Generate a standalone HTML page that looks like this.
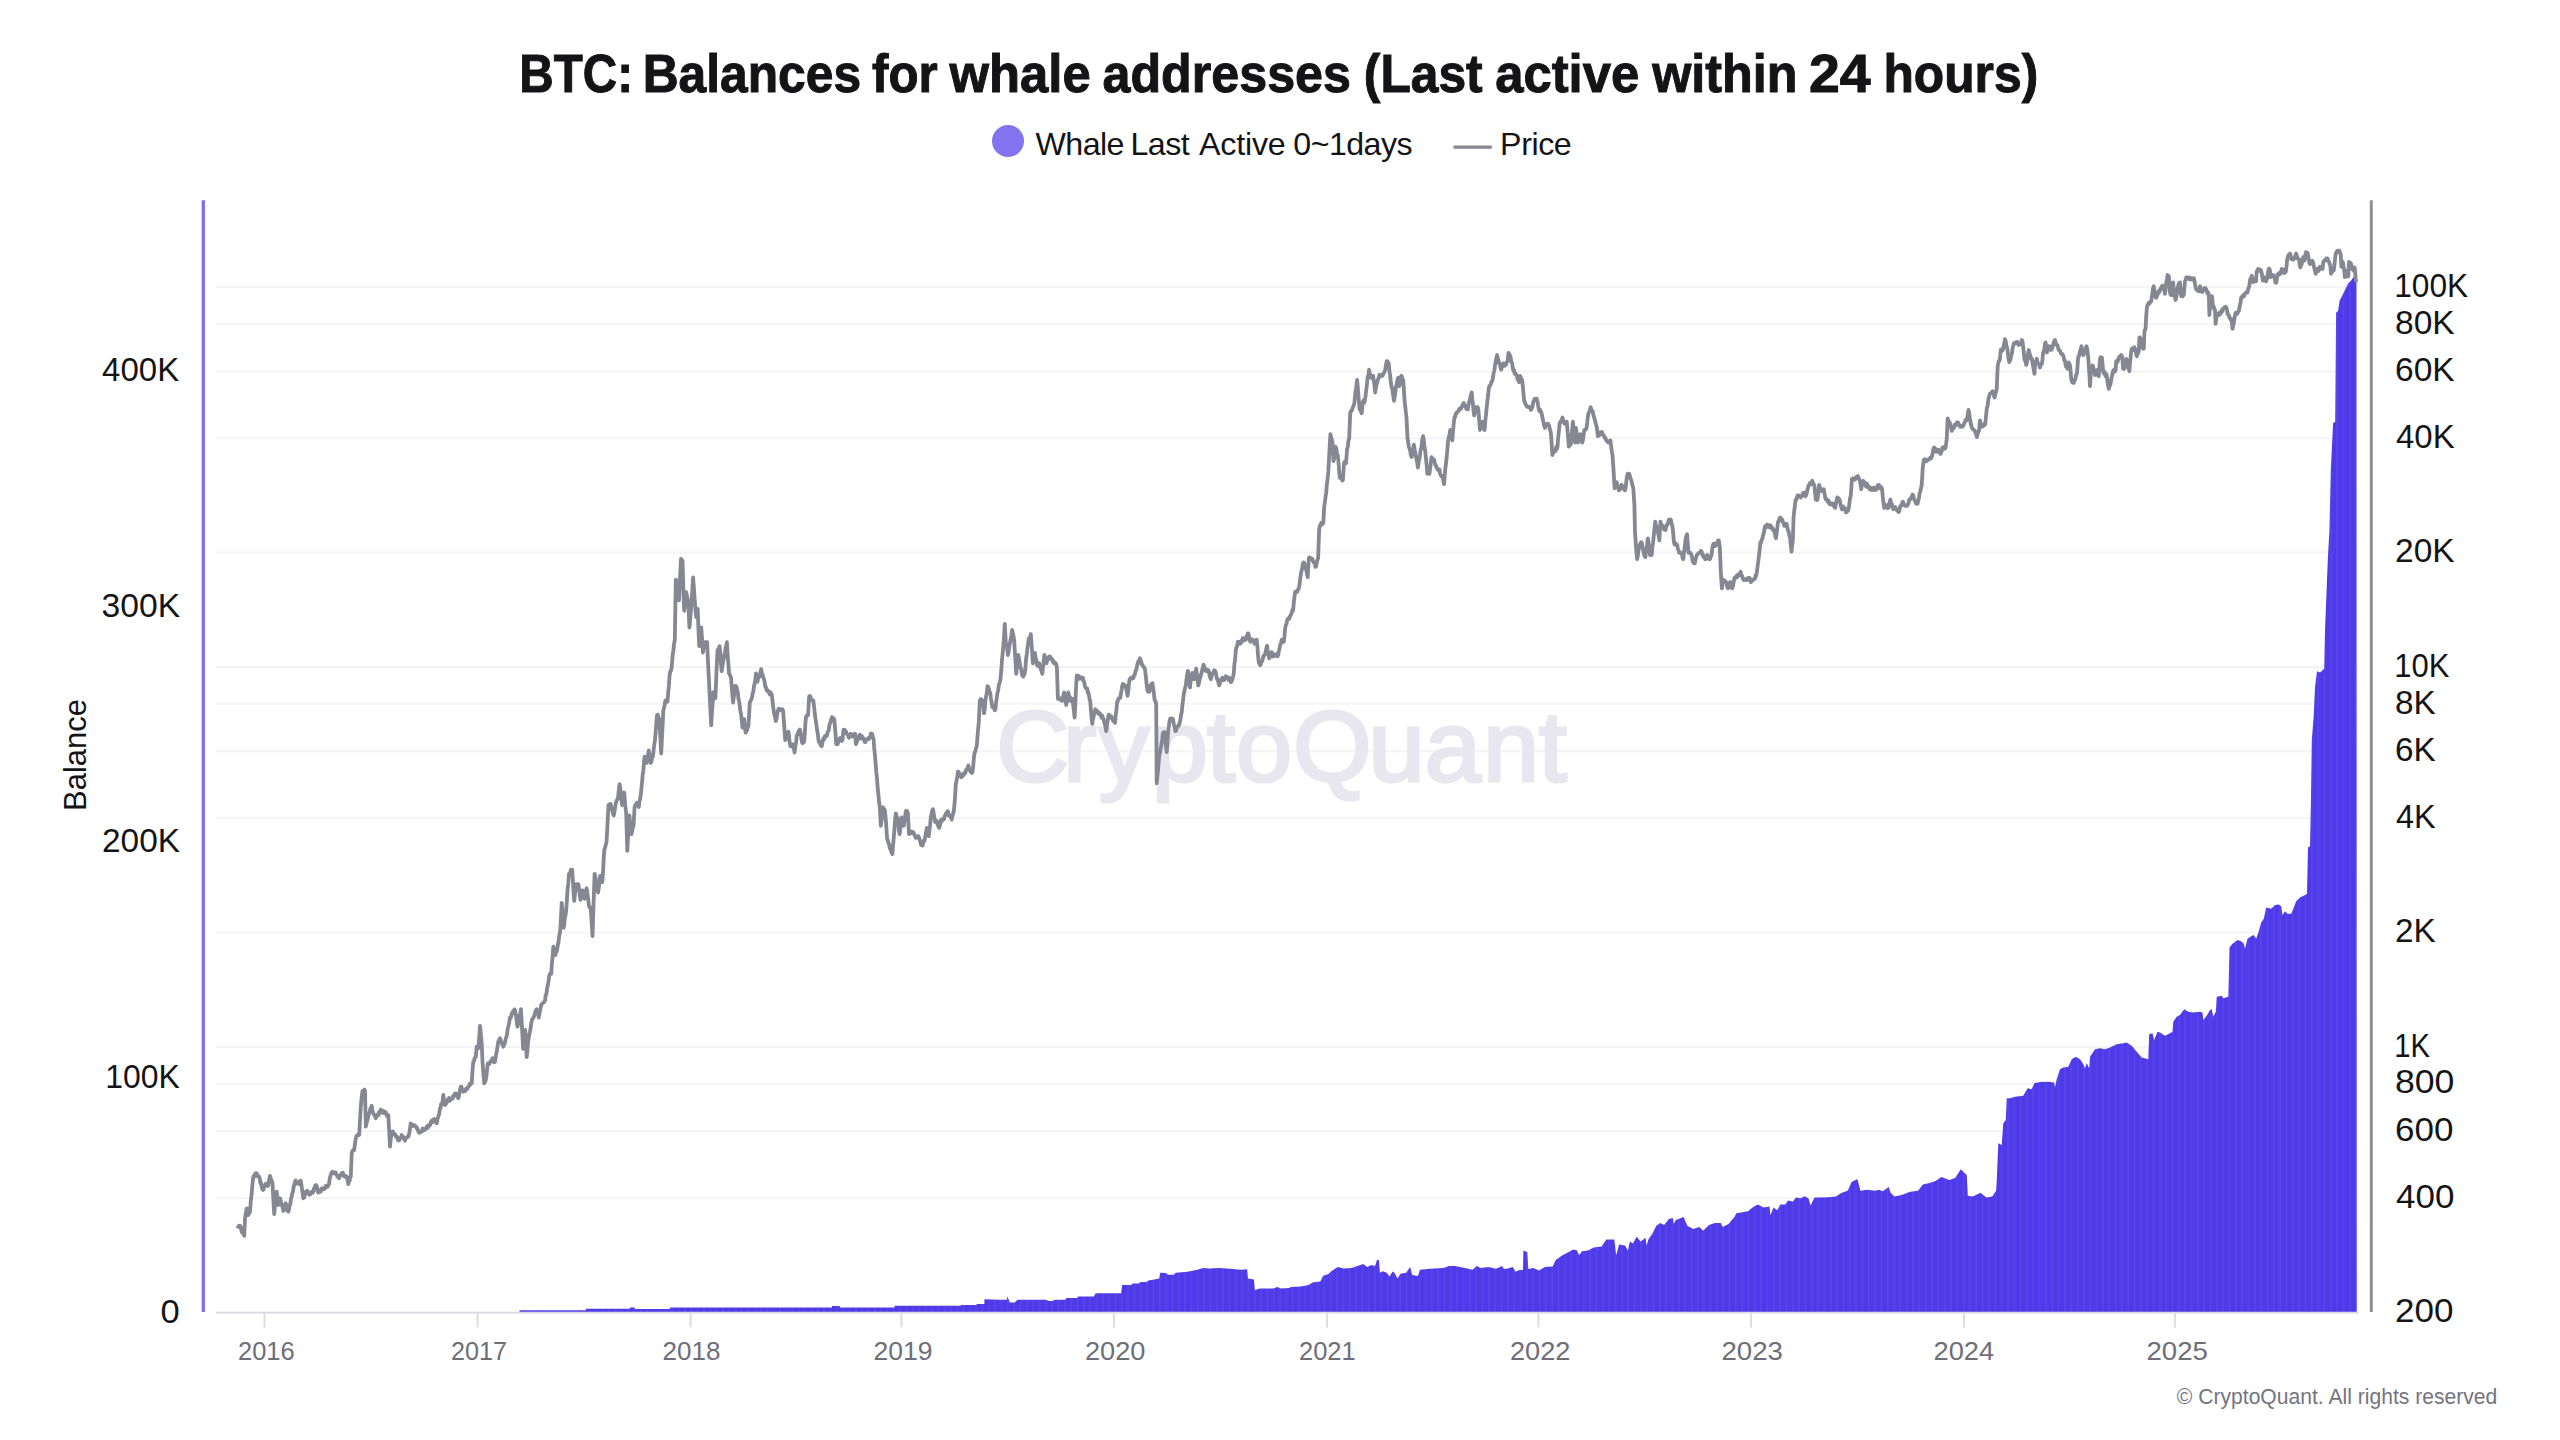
<!DOCTYPE html>
<html><head><meta charset="utf-8"><title>BTC: Balances for whale addresses</title>
<style>
html,body{margin:0;padding:0;background:#fff;}
body{width:2560px;height:1440px;overflow:hidden;}
svg{display:block;font-family:"Liberation Sans",Arial,sans-serif;}
</style></head><body>
<svg width="2560" height="1440" viewBox="0 0 2560 1440">
<rect width="2560" height="1440" fill="#fff"/>
<g font-size="53.5" font-weight="700" fill="#141416" stroke="#141416" stroke-width="1.0"><text transform="translate(519.34 91.6) scale(0.8897 1)">BTC:</text><text transform="translate(642.63 91.6) scale(0.9300 1)">Balances</text><text transform="translate(872.01 91.6) scale(0.9208 1)">for</text><text transform="translate(949.54 91.6) scale(0.9493 1)">whale</text><text transform="translate(1102.47 91.6) scale(0.9392 1)">addresses</text><text transform="translate(1363.87 91.6) scale(0.9298 1)">(Last</text><text transform="translate(1495.21 91.6) scale(0.9496 1)">active</text><text transform="translate(1652.17 91.6) scale(0.9409 1)">within</text><text transform="translate(1808.95 91.6) scale(1.0355 1)">24</text><text transform="translate(1883.41 91.6) scale(0.9305 1)">hours)</text></g>
<circle cx="1008" cy="141" r="16" fill="#8373EF"/>
<g font-size="32.2" fill="#141416" lengthAdjust="spacingAndGlyphs"><text x="1035.50" y="155.4" textLength="89.00">Whale</text><text x="1130.50" y="155.4" textLength="59.20">Last</text><text x="1199.10" y="155.4" textLength="86.60">Active</text><text x="1293.30" y="155.4" textLength="119.20">0~1days</text><text x="1500.10" y="155.4" textLength="71.60">Price</text></g>
<line x1="1453.5" x2="1491.8" y1="147.1" y2="147.1" stroke="#878792" stroke-width="3.2"/>

<g stroke="#F4F4F6" stroke-width="2"><line x1="216" x2="2357" y1="287.1" y2="287.1"/><line x1="216" x2="2357" y1="323.9" y2="323.9"/><line x1="216" x2="2357" y1="371.4" y2="371.4"/><line x1="216" x2="2357" y1="438.3" y2="438.3"/><line x1="216" x2="2357" y1="552.6" y2="552.6"/><line x1="216" x2="2357" y1="667.0" y2="667.0"/><line x1="216" x2="2357" y1="703.8" y2="703.8"/><line x1="216" x2="2357" y1="751.3" y2="751.3"/><line x1="216" x2="2357" y1="818.2" y2="818.2"/><line x1="216" x2="2357" y1="932.5" y2="932.5"/><line x1="216" x2="2357" y1="1046.9" y2="1046.9"/><line x1="216" x2="2357" y1="1083.7" y2="1083.7"/><line x1="216" x2="2357" y1="1131.2" y2="1131.2"/><line x1="216" x2="2357" y1="1198.1" y2="1198.1"/></g>
<g font-size="101" fill="#E8E7EF" stroke="#E8E7EF" stroke-width="3.2" text-anchor="middle"><text x="1032.7 1079.9 1124.1 1179.8 1221 1264 1332.4 1396.6 1452.9 1511 1552.8" y="781">CryptoQuant</text></g>
<defs><pattern id="bars" patternUnits="userSpaceOnUse" width="6.33" height="10" x="0.5"><rect width="6.33" height="10" fill="#4F3AEA"/><rect x="0" width="1.6" height="10" fill="#5845E9"/></pattern></defs><path d="M519.5 1310.3 L585.9 1310.3 L585.9 1308.8 L629.9 1308.8 L629.9 1307.4 L634.8 1307.4 L634.8 1309.1 L669.9 1309.1 L669.9 1307.4 L832 1307.4 L832 1306 L839.8 1306 L839.8 1307.6 L894.5 1307.6 L894.5 1305.8 L960.9 1305.8 L960.9 1305 L976.6 1305 L976.6 1304.1 L984.4 1304.1 L984.4 1299.2 L1000 1299.7 L1006.8 1299.7 L1007.4 1296.6 L1008.8 1299.7 L1009.8 1302.4 L1014.6 1302.4 L1017.6 1299.7 L1045.9 1299.7 L1048.8 1300.9 L1052.7 1300.9 L1054.7 1299.7 L1065.4 1299.7 L1066.4 1298.1 L1077.1 1298.1 L1078.1 1296.6 L1093.8 1296.6 L1095.7 1293.2 L1121.1 1293.2 L1122.1 1285 L1130.9 1285 L1132.8 1283.5 L1138.7 1283.5 L1140.6 1282.1 L1146.5 1282.1 L1148.4 1280.5 L1154.3 1279.6 L1159.2 1278.6 L1160.2 1272.7 L1166 1273.1 L1168 1274.7 L1173.8 1274.7 L1175.8 1272.7 L1187.5 1271.8 L1197.3 1269.8 L1203.1 1267.9 L1209 1268.4 L1218.8 1267.9 L1230.5 1268.8 L1240.2 1269.8 L1247.1 1269.2 L1248 1278.6 L1253.9 1279.6 L1254.9 1289.9 L1259.8 1288.4 L1273.4 1288.4 L1277.3 1287 L1281.2 1288.4 L1289.1 1288 L1291 1287 L1300.8 1286.4 L1308.6 1285 L1312.5 1282.5 L1320.3 1281.5 L1323.2 1275.7 L1328.1 1274.3 L1332 1270.8 L1337.9 1266.9 L1343.8 1268.4 L1351.6 1267.9 L1357.4 1266.1 L1363.3 1263.9 L1367.2 1266.9 L1371.1 1264.9 L1375 1265.9 L1377 1260 L1378.9 1260 L1379.9 1272.7 L1382.8 1271.2 L1386.7 1272.7 L1389.6 1276.6 L1392.6 1271.4 L1394.5 1272.7 L1397.5 1278.6 L1400.4 1273.7 L1406.2 1272.7 L1410.2 1266.9 L1412.1 1274.7 L1416 1275.7 L1418 1275.7 L1419.9 1269.8 L1429.7 1268.8 L1443.4 1267.9 L1449.2 1265.9 L1455.1 1265.9 L1464.8 1267.9 L1472.7 1269.8 L1476.6 1265.9 L1480.5 1267.9 L1488.3 1266.9 L1496.1 1268.8 L1500 1267 L1502 1266 L1503.9 1268.9 L1507.8 1268.5 L1512.7 1267 L1515.6 1271.8 L1519.5 1269.9 L1523 1269.9 L1523.4 1250.4 L1527.3 1252.3 L1528.3 1268.9 L1533.2 1267.9 L1539.1 1270.5 L1544.9 1267 L1552.7 1266.6 L1555.7 1260.1 L1562.5 1255.2 L1566.4 1253.3 L1573.2 1249.4 L1577.1 1250.4 L1579.1 1255.2 L1582 1251.3 L1587.9 1250.4 L1593.8 1247.4 L1601.6 1246.4 L1606.4 1239.6 L1614.3 1239.6 L1616.2 1255.2 L1619.1 1244.5 L1625 1245.5 L1627.9 1250.4 L1629.9 1241.6 L1632.8 1243.5 L1636.7 1236.7 L1640.6 1241.6 L1645.5 1237.7 L1646.5 1245.5 L1648.4 1239.6 L1652.3 1233.8 L1656.2 1225.9 L1660.2 1223 L1664.1 1225 L1668.9 1219.1 L1672.9 1218.1 L1673.8 1224 L1675.8 1220.1 L1683.6 1217.1 L1687.5 1225.9 L1693.4 1228.9 L1699.2 1226.9 L1703.1 1230.8 L1709 1225 L1714.8 1223 L1720.7 1223 L1722.7 1226.9 L1728.5 1224 L1734.4 1217.1 L1736.3 1213.2 L1742.2 1212.3 L1748 1211.3 L1753.9 1206.4 L1757.8 1204.5 L1763.7 1207.4 L1769.5 1206.4 L1770.5 1215.2 L1773.4 1207.4 L1777.3 1210.3 L1780.3 1204.5 L1785.2 1204.5 L1788.1 1200.5 L1793 1201.5 L1795.9 1197.6 L1800.8 1198.2 L1804.7 1196.2 L1808.6 1198.6 L1810.5 1205.4 L1814.5 1197.6 L1820.3 1197.6 L1828.1 1197.2 L1835.9 1196.6 L1841.8 1192.7 L1847.7 1190.8 L1851.6 1182 L1857.4 1179.1 L1860.4 1190.8 L1867.2 1189.8 L1875 1190.8 L1878.9 1189.8 L1882.8 1191.2 L1888.7 1186.9 L1890.6 1192.7 L1894.5 1196.6 L1902.3 1194.7 L1910.2 1191.8 L1918 1190.8 L1922.9 1184.5 L1929.7 1183 L1935.5 1181 L1941.4 1177.1 L1949.2 1180 L1955.1 1178.1 L1960.9 1169.3 L1964.8 1173.2 L1966.8 1175.2 L1967.8 1195.7 L1972.7 1196.6 L1980.5 1192.7 L1986.3 1197.6 L1992.2 1196.6 L1996.1 1190.8 L1996.7 1181.7 L1998.3 1143.3 L2001.7 1145 L2003.3 1123.3 L2005.8 1120 L2006.7 1098.3 L2010 1098.3 L2015 1096.7 L2023.3 1095.8 L2027.5 1088.3 L2031.7 1089.2 L2034.2 1083.3 L2040 1082 L2048.3 1081.7 L2054.2 1082.5 L2055 1087.5 L2056.7 1079.2 L2060 1069.2 L2063.3 1067.5 L2068.3 1066.7 L2071.7 1059.2 L2075.8 1056.7 L2080 1059.2 L2083.3 1064.2 L2085 1068.3 L2086.7 1063.3 L2089.2 1068.3 L2090 1056.7 L2095 1049.2 L2100 1048.3 L2105 1049.2 L2110 1047.5 L2116.7 1044.2 L2123.3 1043.3 L2126.7 1042.5 L2131.7 1045.8 L2136.7 1051.7 L2141.7 1057.5 L2148.3 1059.2 L2149.2 1034.2 L2152.5 1033.3 L2154.2 1040 L2157.5 1031.7 L2160 1032.5 L2165 1035.8 L2170 1033.3 L2172.5 1031.7 L2173.3 1021.7 L2176.7 1016.7 L2180 1015 L2184.2 1009.2 L2188.3 1011.7 L2193.3 1012.5 L2200 1011.7 L2202.5 1012.5 L2203.3 1020 L2206.7 1015.8 L2210 1010 L2211.7 1009.2 L2213.3 1016.7 L2215.8 1011.7 L2216.7 996.7 L2221.7 995.8 L2223.3 998.3 L2228.3 996.7 L2229.5 947.5 L2232.5 943.8 L2237.5 940 L2241.2 941.2 L2243.8 943.8 L2245 948.8 L2247.5 938.8 L2251.2 936.2 L2253.8 935 L2256.2 938.8 L2258.8 931.2 L2261.2 922.5 L2263.8 918.8 L2266.2 907.5 L2271.2 908.8 L2275 905 L2278.8 904.5 L2281.2 906.2 L2282.5 915 L2285 911.2 L2287.5 913.8 L2291.2 913.8 L2293.8 907.5 L2296.2 901.2 L2300 897.5 L2305 895 L2307 893.8 L2308 847.5 L2310 846.2 L2310.8 807.5 L2311.8 740 L2313.8 715 L2315 687.5 L2317 671.2 L2320 672.5 L2324.2 668.8 L2325 630.3 L2326.4 595.3 L2327.9 557.4 L2329.4 531.1 L2330.8 469.9 L2333.1 423.3 L2335.2 421.8 L2336.1 312.5 L2338.1 311 L2339.6 300.8 L2342.5 295 L2345.4 289.2 L2348.3 283.3 L2351.2 280.4 L2354.1 276 L2356.5 277.5 L2356.8 1312 L519.5 1312 Z" fill="url(#bars)"/>
<line x1="216" x2="2358.5" y1="1312.6" y2="1312.6" stroke="#DADAE2" stroke-width="1.6"/>
<g stroke="#DCDCE3" stroke-width="2"><line x1="264.5" x2="264.5" y1="1312" y2="1327.5"/><line x1="477.5" x2="477.5" y1="1312" y2="1327.5"/><line x1="690.6" x2="690.6" y1="1312" y2="1327.5"/><line x1="901.4" x2="901.4" y1="1312" y2="1327.5"/><line x1="1114" x2="1114" y1="1312" y2="1327.5"/><line x1="1327.1" x2="1327.1" y1="1312" y2="1327.5"/><line x1="1538.5" x2="1538.5" y1="1312" y2="1327.5"/><line x1="1751.1" x2="1751.1" y1="1312" y2="1327.5"/><line x1="1964" x2="1964" y1="1312" y2="1327.5"/><line x1="2174.9" x2="2174.9" y1="1312" y2="1327.5"/></g>
<path d="M237.5 1228.3 L238.1 1227.1 L238.8 1225.9 L239.4 1227 L240 1225.8 L240.8 1227.3 L241.7 1231.7 L242.3 1232.8 L242.9 1233.3 L243.5 1233.3 L244.2 1235.8 L245 1218.3 L245.8 1213.4 L246.7 1208.3 L247.5 1210.1 L248.3 1215 L249.2 1213.1 L250 1211.7 L250.8 1201 L251.7 1193.3 L252.5 1183.6 L253.3 1176.7 L254 1175.7 L254.7 1176.4 L255.3 1173.4 L256 1173.1 L256.7 1173.3 L257.3 1174.6 L257.9 1176.5 L258.5 1176.1 L259.2 1176.7 L259.8 1178.8 L260.4 1183.3 L261 1182.6 L261.7 1186.7 L262.5 1189.6 L263.3 1190 L264.2 1186.8 L265 1185 L265.7 1183.8 L266.3 1183.7 L267 1184.3 L267.7 1186.1 L268.3 1185 L269.2 1179.3 L270 1175.8 L270.6 1178 L271.2 1180.1 L271.9 1181 L272.5 1183.3 L273.3 1198.9 L274.2 1214.2 L274.8 1207.1 L275.4 1201.4 L276 1196.3 L276.7 1191.7 L277.5 1198.9 L278.3 1205 L279.2 1201.4 L280 1198.3 L280.7 1200.2 L281.3 1203.6 L282 1205.7 L282.7 1207.7 L283.3 1210.8 L284 1210 L284.6 1207.8 L285.2 1204.3 L285.8 1203.3 L286.5 1205.7 L287.1 1207.6 L287.7 1210.9 L288.3 1211.7 L289 1209.4 L289.7 1204.9 L290.3 1204.3 L291 1198.4 L291.7 1196.7 L292.3 1193.4 L293 1191.5 L293.7 1186.5 L294.3 1184.6 L295 1181.7 L295.7 1180.4 L296.3 1182.9 L297 1183.6 L297.7 1183.2 L298.3 1183.3 L299 1184 L299.6 1181.5 L300.2 1182.1 L300.8 1180.8 L301.5 1185.5 L302.1 1189.9 L302.7 1193.8 L303.3 1198.3 L304 1197.8 L304.6 1196.5 L305.2 1193.2 L305.8 1191.7 L306.5 1192.5 L307.2 1190.7 L307.9 1193.2 L308.6 1193.3 L309.3 1194.7 L310 1193.3 L310.7 1194.1 L311.3 1191.9 L312 1191.9 L312.7 1192.6 L313.3 1191.7 L314 1188.4 L314.6 1188.2 L315.2 1185.5 L315.8 1185 L316.5 1185.6 L317.1 1187.3 L317.7 1191.5 L318.3 1192.5 L319 1190.7 L319.6 1190.6 L320.2 1190.6 L320.8 1191.7 L321.5 1188.5 L322.1 1189.2 L322.7 1189 L323.3 1188.3 L324 1189.2 L324.6 1188.6 L325.2 1188.3 L325.8 1185.9 L326.5 1186 L327.1 1185.4 L327.7 1186.7 L328.3 1185 L329 1184.1 L329.7 1178.8 L330.3 1176.4 L331 1174.1 L331.7 1172.5 L332.3 1171.8 L333 1172.8 L333.7 1173.3 L334.3 1172.4 L335 1173.3 L335.7 1172.5 L336.3 1174.7 L337 1175.4 L337.7 1176.9 L338.3 1177.5 L339 1178.2 L339.7 1176.5 L340.3 1175.1 L341 1174.6 L341.7 1173.3 L342.3 1174.3 L342.9 1172.7 L343.5 1175.9 L344.2 1176 L344.8 1176.7 L345.4 1176.8 L346 1175.9 L346.7 1176.7 L347.5 1180.1 L348.3 1184.2 L349 1180.9 L349.6 1180.9 L350.2 1177.1 L350.8 1176.7 L351.7 1153.3 L352.3 1151 L352.9 1150.7 L353.5 1149.7 L354.2 1150 L355 1143.6 L355.8 1138.3 L356.5 1136.1 L357.2 1135.3 L357.8 1135.1 L358.5 1134.3 L359.2 1135 L360 1120.4 L360.8 1106.7 L361.7 1097.1 L362.5 1090.8 L363.1 1092.1 L363.8 1091.2 L364.4 1089.6 L365 1090.8 L365.8 1126.7 L366.7 1122.5 L367.5 1120 L368.3 1116.1 L369.2 1113.3 L369.8 1111 L370.4 1108.3 L371 1108.9 L371.7 1105.8 L372.5 1111.3 L373.3 1113.3 L374 1114.5 L374.6 1115.8 L375.2 1115.7 L375.8 1118.3 L376.5 1115.9 L377.2 1115.6 L377.9 1114.2 L378.6 1115 L379.3 1111.6 L380 1111.7 L380.8 1109.6 L381.7 1110.8 L382.3 1112.9 L383 1111.9 L383.7 1111.1 L384.3 1113 L385 1113.3 L385.7 1112.1 L386.3 1114.1 L387 1116 L387.7 1115.9 L388.3 1115 L389.2 1131.5 L390 1146.7 L390.8 1138.4 L391.7 1131.7 L392.3 1131.7 L393 1131.5 L393.7 1134.1 L394.3 1133.8 L395 1134.2 L395.7 1136.3 L396.3 1135.9 L397 1136.7 L397.7 1139.9 L398.3 1140 L399 1140.6 L399.7 1139.2 L400.3 1138 L401 1137.1 L401.7 1135 L402.3 1137 L403 1136.4 L403.7 1138.6 L404.3 1139.2 L405 1140.8 L405.7 1138.4 L406.3 1137.6 L407 1137.6 L407.7 1136.7 L408.3 1136.7 L409 1134 L409.6 1131.6 L410.2 1126.5 L410.8 1123.3 L411.5 1125.2 L412.1 1125.8 L412.7 1126.1 L413.3 1125 L414 1125.2 L414.7 1125.4 L415.3 1126.1 L416 1126.6 L416.7 1128.3 L417.3 1128.2 L418 1130.4 L418.7 1132.2 L419.3 1132.8 L420 1132.5 L420.7 1131.8 L421.3 1131.7 L422 1131.5 L422.7 1128.4 L423.3 1129.2 L424 1129.4 L424.6 1129.9 L425.2 1129.2 L425.8 1128.8 L426.5 1127.5 L427.1 1126.2 L427.7 1128 L428.3 1126.7 L429 1124.9 L429.7 1125.4 L430.3 1124.8 L431 1121.6 L431.7 1120.8 L432.3 1120.3 L433 1122 L433.7 1121.1 L434.3 1119 L435 1120 L435.8 1120.4 L436.7 1123.3 L437.5 1118.8 L438.3 1116.7 L439.2 1113.9 L440 1108.3 L440.6 1107.7 L441.2 1103.8 L441.9 1104.4 L442.5 1101.7 L443.3 1095 L444.2 1101.6 L445 1105 L445.7 1104.5 L446.3 1102.5 L447 1102.2 L447.7 1099.7 L448.3 1100 L449 1098 L449.7 1100.9 L450.3 1099.5 L451 1098.8 L451.7 1098.3 L452.3 1098.8 L453 1096.1 L453.7 1096.6 L454.3 1095.4 L455 1093.3 L455.7 1093.4 L456.3 1094.5 L457 1095.6 L457.7 1096.5 L458.3 1098.3 L459 1095.7 L459.6 1091.7 L460.2 1089.3 L460.8 1086.7 L461.5 1086.7 L462.1 1090.6 L462.7 1089.9 L463.3 1091.7 L464 1090.9 L464.7 1090.6 L465.3 1091 L466 1088.7 L466.7 1088.3 L467.3 1089.1 L467.9 1087.1 L468.5 1086.6 L469.2 1085.9 L469.8 1083.6 L470.4 1084.4 L471 1082.9 L471.7 1083.3 L472.5 1070.8 L473.3 1061.7 L474 1061.4 L474.6 1058.1 L475.2 1057.8 L475.8 1056.7 L476.7 1046.7 L477.5 1048.3 L478.3 1048.3 L479.2 1037.3 L480 1025.8 L480.8 1034 L481.7 1043.3 L482.5 1061.7 L483.3 1072.6 L484.2 1083.3 L485 1081.9 L485.8 1080 L486.7 1073.5 L487.5 1065 L488.1 1063.2 L488.8 1064.4 L489.4 1062.9 L490 1063.3 L490.6 1061.3 L491.2 1061.8 L491.9 1059.6 L492.5 1058.3 L493.1 1059.4 L493.8 1060.9 L494.4 1062.2 L495 1061.7 L495.8 1056.5 L496.7 1051.7 L497.5 1047 L498.3 1041.7 L499.2 1040 L500 1038.3 L500.7 1040 L501.3 1042.3 L502 1043.2 L502.7 1045.1 L503.3 1046.7 L504 1044.5 L504.6 1044 L505.2 1041.1 L505.8 1038.3 L506.5 1036.7 L507.1 1034 L507.7 1028.8 L508.3 1026.7 L509.2 1022.3 L510 1017.5 L510.6 1018 L511.2 1016.6 L511.9 1013.1 L512.5 1013.3 L513.1 1011.2 L513.8 1011.5 L514.4 1009.4 L515 1010 L515.6 1013.3 L516.2 1016.9 L516.9 1023.1 L517.5 1026.7 L518.2 1024.1 L518.9 1021 L519.6 1015 L520.3 1013.4 L521 1009.2 L521.7 1022.9 L522.4 1034.3 L523.1 1048.8 L523.8 1043.8 L524.5 1037.8 L525.2 1030 L525.9 1042.6 L526.7 1057.1 L527.5 1050.3 L528.3 1040.4 L529 1036.3 L529.6 1032.9 L530.2 1030.8 L530.8 1026.5 L531.5 1021.7 L532.2 1019.1 L532.8 1018.7 L533.5 1017.5 L534.2 1015.9 L534.8 1013.6 L535.4 1011.5 L536 1010.2 L536.7 1009.2 L537.4 1012.7 L538.1 1013.1 L538.8 1017.5 L539.4 1014.2 L540.1 1010.4 L540.8 1007.1 L541.5 1004.1 L542.2 1003.7 L542.9 1002.9 L543.6 1002.6 L544.3 1001.6 L545 1000.8 L545.7 995.2 L546.4 994.1 L547.1 988.3 L547.8 985.1 L548.5 981.6 L549.2 975.8 L549.9 973.8 L550.6 973.6 L551.2 973.8 L551.9 963.2 L552.6 956.6 L553.3 946.7 L554 948.7 L554.7 951 L555.4 955 L556 952.2 L556.7 951.4 L557.3 948.6 L557.9 944.2 L558.5 942.5 L559.2 935.8 L559.9 932.8 L560.6 925.8 L561.7 902.9 L562.4 911.5 L563.1 920.3 L563.8 927.9 L564.4 921.7 L565.1 916.7 L565.8 913.3 L566.5 906.1 L567.1 897.2 L567.7 888.1 L568.3 883.2 L569 873.8 L569.6 873.4 L570.2 873.1 L570.8 869.8 L571.5 871.6 L572.1 869.6 L572.8 878.5 L573.5 891.7 L574.2 900.8 L574.9 895.1 L575.6 889.2 L576.2 884.2 L576.9 884.3 L577.6 885.6 L578.3 884.2 L579 888.6 L579.7 893.3 L580.4 899.8 L581.1 896.8 L581.8 892.7 L582.5 890.4 L583.2 891.9 L583.9 894.8 L584.6 898.8 L585.3 893.7 L586 890.8 L586.7 888.3 L587.4 893.2 L588.1 898.8 L588.8 905 L589.4 907.3 L590.1 907.1 L590.8 909.2 L591.7 922.7 L592.5 936.2 L593.2 914.3 L593.9 894.1 L594.6 873.8 L595.2 875.8 L595.8 880.2 L596.5 883 L597.1 888.3 L598.1 892.5 L598.8 887.7 L599.5 881.6 L600.2 875.8 L600.9 876.9 L601.6 879.9 L602.3 882.1 L603 872.5 L603.7 858.5 L604.4 848.8 L605.1 847.8 L605.8 844.4 L606.5 842.5 L607.2 830 L607.8 818.6 L608.5 805 L609.2 804.3 L609.9 804.3 L610.6 804 L611.2 806.9 L611.9 810.2 L612.5 810.3 L613.1 814.3 L613.8 815.4 L614.4 812 L615.1 807.5 L615.8 802.9 L616.5 801.2 L617.2 799.6 L617.9 798.8 L618.8 789.9 L619.6 784.2 L620.2 788.1 L620.8 793.1 L621.5 800.6 L622.1 805 L622.8 800 L623.5 795.5 L624.2 792.5 L625.2 805 L626.2 813.3 L627.3 850.8 L628 837.6 L628.7 828.4 L629.4 815.4 L630.1 822.9 L630.8 828.5 L631.5 834.2 L632.2 830.6 L632.8 827.7 L633.5 825.8 L634.6 807.1 L635.3 805 L636 804.2 L636.7 802.9 L637.4 803.1 L638.1 805.5 L638.8 807.1 L639.4 801.5 L640.1 799.1 L640.8 794.3 L641.5 787.9 L642.1 781.8 L642.7 774.5 L643.3 770.7 L644 762.3 L644.6 756.7 L645.3 758.3 L646 759.1 L646.7 762.9 L647.4 758.3 L648.1 754.5 L648.8 750.4 L649.4 754.6 L650.1 757.7 L650.8 762.9 L651.5 760.8 L652.2 757.1 L652.9 756.7 L653.6 750.3 L654.3 744.2 L655 740 L655.7 731.3 L656.4 721.8 L657.1 715 L657.8 714.8 L658.5 717.1 L659.2 719.2 L659.9 729.7 L660.6 742.4 L661.2 753.5 L661.9 739.4 L662.6 725.9 L663.3 710.8 L664 707.9 L664.7 704.6 L665.4 700.4 L666.1 702.1 L666.8 700.7 L667.5 701.5 L668.2 692.2 L668.9 685.7 L669.6 675.4 L670.3 671.4 L671 670.6 L671.7 667.1 L672.7 654.6 L673.4 650.2 L674.1 643.3 L674.8 640 L675.8 579.6 L676.5 581.4 L677.2 582.3 L677.9 581.7 L679 600.4 L680 577.5 L681 558.8 L681.8 560.2 L682.5 560.8 L683.3 586.6 L684.2 610.8 L684.9 605.6 L685.6 597.1 L686.2 592.1 L686.9 595.6 L687.6 599 L688.3 602.5 L689.4 627.5 L690.1 620.3 L690.8 611.9 L691.5 602.5 L692.3 591.1 L693.1 577.5 L693.9 588.2 L694.6 598.3 L695.4 609 L696.2 617.1 L697 613.5 L697.7 608.8 L698.4 628.2 L699.2 646.2 L699.9 639.1 L700.6 632.2 L701.2 627.5 L702.1 638.8 L702.9 652.5 L703.6 648.6 L704.3 644.2 L705 642.1 L705.7 643.2 L706.4 642.3 L707.1 642.1 L707.9 660.2 L708.8 677.5 L709.4 689.9 L710 702.1 L710.6 713.4 L711.2 725.4 L711.9 712.6 L712.6 704.2 L713.3 692.1 L714 695 L714.7 696.3 L715.4 698.3 L716.5 671.2 L717.5 650.4 L718.2 649.1 L718.9 648.2 L719.6 646.2 L720.3 653.1 L721 663.7 L721.7 671.2 L722.4 666.2 L723.1 661.5 L723.8 658.8 L724.4 654.6 L725 652.9 L725.6 647.7 L726.2 646.2 L726.9 642.1 L727.6 654.1 L728.3 662.9 L729 673.3 L729.7 674.3 L730.3 676 L731 677.5 L731.7 686.5 L732.4 695.1 L733.1 702.5 L733.8 697.3 L734.5 691.9 L735.2 685.8 L735.9 685.8 L736.6 687.4 L737.3 690 L737.9 693.3 L738.5 699.2 L739.2 701.8 L739.8 706.9 L740.4 710.8 L741.1 714.7 L741.8 720.5 L742.5 727.5 L743.3 722.5 L744.2 719.2 L744.9 726.5 L745.6 732.7 L746.3 731.8 L747 730.2 L747.7 727.3 L748.3 726.5 L749.1 714.5 L749.8 702.5 L750.5 701 L751.2 699.6 L751.9 698.3 L752.6 693.4 L753.2 692.4 L753.9 686.4 L754.6 683.8 L755.3 680.2 L756 673.3 L756.8 679 L757.5 681.7 L758.2 677.9 L758.9 677.4 L759.5 676.5 L760.2 673.3 L761.2 669.2 L761.9 673.5 L762.6 674.6 L763.3 677.5 L764 679.2 L764.6 681.5 L765.2 686.5 L765.8 686.5 L766.5 690 L767.2 691 L767.8 690.2 L768.5 692.1 L769.2 692.6 L769.8 694.5 L770.4 692.1 L771 694.8 L771.7 694.2 L772.4 699.8 L773.1 706.6 L773.8 710.8 L774.4 715 L775.1 716.9 L775.8 721.2 L776.5 719.1 L777.2 714.3 L777.9 710.8 L778.5 709 L779.2 708.7 L779.8 710.2 L780.4 709.8 L781 709.8 L781.7 709.5 L782.4 709.3 L783.1 710.8 L783.8 720 L784.5 729.7 L785.2 740 L785.8 739.5 L786.5 735 L787.1 735.9 L787.7 734.5 L788.3 731.7 L789 735.2 L789.7 742.8 L790.4 746.2 L791.1 746.3 L791.8 746.2 L792.5 744.2 L793.2 746.2 L793.9 749.3 L794.6 752.5 L795.3 746.6 L796 743.1 L796.7 735.8 L797.3 734.9 L797.9 732.9 L798.5 731.8 L799.2 730.1 L799.8 729.6 L800.5 732.2 L801.2 736.6 L801.9 742.1 L802.6 743.2 L803.3 741.4 L804 742.1 L804.7 735.2 L805.3 724.6 L806 717.1 L806.7 715.6 L807.4 715.7 L808.1 715 L809.2 696.2 L809.9 695.9 L810.6 697.2 L811.2 699.9 L811.9 700.3 L812.6 700.8 L813.3 700.4 L814 705.9 L814.6 711.8 L815.2 716.9 L815.8 720.6 L816.5 725.4 L817.2 731 L817.8 733.6 L818.5 740 L819.2 742 L819.8 742.3 L820.4 744.6 L821 745.5 L821.7 746.2 L822.4 742.7 L823.1 739.2 L823.8 737.9 L824.4 739 L825 735.8 L825.6 736.6 L826.2 735.7 L826.9 735.8 L827.5 732.6 L828.1 731.6 L828.8 730 L829.4 725 L830 723.3 L830.7 721.8 L831.4 718.5 L832.1 717.1 L832.8 718 L833.5 718.1 L834.2 719.2 L834.9 726.4 L835.6 734.7 L836.2 744.2 L836.9 742.5 L837.6 744.2 L838.3 742.1 L839 740.7 L839.7 738.4 L840.4 737.9 L841.1 740 L841.8 741 L842.5 740 L843.5 729.6 L844.2 730.2 L844.8 730 L845.4 731 L846 731.5 L846.7 733.8 L847.4 734.6 L848.1 735.1 L848.8 737.9 L849.4 735.6 L850.1 734.3 L850.8 733.8 L851.5 734.7 L852.2 736.5 L852.9 735.8 L853.6 736 L854.3 734.1 L855 733.8 L856 744.2 L856.7 742.2 L857.3 740.9 L857.9 738.7 L858.5 736.9 L859.2 735.8 L859.9 734.7 L860.6 735.8 L861.2 738.5 L861.9 736 L862.6 737.6 L863.3 737.9 L864 739.7 L864.7 741.9 L865.4 742.1 L866 740.3 L866.6 739.7 L867.2 738.9 L867.8 738.6 L868.4 737.9 L869 738.9 L869.6 737.7 L870.2 737 L870.9 733.3 L871.5 734.2 L872.2 734 L872.8 737.7 L873.5 738.3 L874.2 748 L874.9 754.9 L875.6 763.3 L876.3 772 L877 778.3 L877.7 788.3 L878.4 794.2 L879.1 802.3 L879.8 807.1 L880.8 825.8 L881.5 820.7 L882.2 814.5 L882.9 807.1 L883.6 810.1 L884.3 809 L885 811.2 L885.7 818.9 L886.4 828.1 L887.1 838.3 L887.8 840.5 L888.5 843.1 L889.2 844.6 L889.8 848 L890.4 849.1 L891 850.7 L891.7 853 L892.3 854 L893 845.8 L893.7 838.2 L894.4 830 L895.1 820.1 L895.8 813.3 L896.7 816.4 L897.5 817.5 L898.2 822.1 L898.9 830 L899.6 834.2 L900.3 829.1 L901 822.4 L901.7 817.5 L902.4 819 L903.1 822.2 L903.8 825.8 L904.4 821.4 L905.1 816.8 L905.8 811.2 L906.5 810.6 L907.2 811.2 L907.9 813.3 L909 834.2 L909.6 833.8 L910.2 833.6 L910.8 832.5 L911.5 831.6 L912.1 832.1 L912.7 833.3 L913.3 832.1 L914 833.9 L914.6 835.3 L915.2 836.2 L915.8 837.8 L916.5 836.7 L917.1 837.6 L917.7 836.2 L918.3 836.2 L919 837.4 L919.7 839.6 L920.4 842.5 L921.1 845.1 L921.8 845.3 L922.5 845.6 L923.2 843.2 L923.9 840.5 L924.6 840.4 L925.3 836.2 L926 832.7 L926.7 827.9 L927.4 830.4 L928.1 832.6 L928.8 836.2 L929.4 830.6 L930.1 825.2 L930.8 817.5 L931.5 813.8 L932.2 810.4 L932.9 809.2 L933.6 812.8 L934.3 817.2 L935 821.7 L935.7 822.3 L936.4 820.6 L937.1 821.7 L937.8 824.8 L938.5 826.6 L939.2 827.9 L939.9 825.2 L940.6 821.4 L941.2 819.6 L941.9 821.2 L942.6 818.9 L943.3 819.6 L944 819.3 L944.7 815.9 L945.4 815.4 L946.1 813.1 L946.8 813.5 L947.5 811.2 L948.2 811.9 L948.9 815.6 L949.6 815.4 L950.3 816.8 L951 817.1 L951.7 819.6 L952.4 815.9 L953.1 813.7 L953.8 811.2 L954.8 800.8 L955.8 784.2 L956.5 780.6 L957.2 777.4 L957.9 771.7 L958.6 771.9 L959.3 774.1 L960 775.8 L960.6 774.9 L961.2 777.4 L961.9 774.6 L962.5 774.3 L963.1 775.8 L963.8 773.1 L964.4 773 L965 773.4 L965.6 772.1 L966.2 769.6 L966.9 769 L967.6 768.5 L968.3 765.4 L969 769 L969.7 769 L970.4 771.7 L971.1 770.6 L971.8 773.1 L972.5 771.7 L973.2 766.3 L973.9 757.6 L974.6 752.9 L975.3 751.4 L976 748.3 L976.7 746.7 L977.4 737.9 L978.1 729.4 L978.8 721.7 L979.8 700.8 L980.4 699.7 L981 699.1 L981.7 700.1 L982.3 700.3 L982.9 700.8 L984 713.3 L984.7 709.3 L985.3 700.9 L986 696.7 L986.8 693 L987.5 686.2 L988.2 686.8 L988.9 688.9 L989.5 692 L990.2 692.5 L990.9 698.5 L991.6 702 L992.3 707.1 L992.9 706 L993.5 707.8 L994.2 707.9 L994.8 710.2 L995.4 709.2 L996.1 702.6 L996.8 697.6 L997.5 692.5 L998.1 690.9 L998.8 685.1 L999.4 683.4 L1000 681.9 L1000.6 677.9 L1001.3 670.5 L1002 659.7 L1002.7 652.9 L1003.8 640.4 L1004.8 623.8 L1005.8 642.5 L1006.5 645.1 L1007.2 649.3 L1007.9 655 L1008.6 652.3 L1009.3 645.8 L1010 642.5 L1010.7 639.2 L1011.4 635.5 L1012.1 630 L1012.8 632.9 L1013.5 636.2 L1014.2 640.4 L1014.9 653.1 L1015.6 663 L1016.2 673.8 L1016.9 666.7 L1017.6 662 L1018.3 655 L1019 658.5 L1019.7 662.6 L1020.4 667.5 L1021.1 668.6 L1021.8 673.9 L1022.5 675.8 L1023.2 676.6 L1023.9 674.9 L1024.6 673.8 L1025.3 669 L1026 659.6 L1026.7 655 L1027.4 648.5 L1028.1 643.8 L1028.8 638.3 L1029.4 638.5 L1030.1 637.1 L1030.8 634.2 L1031.5 643.5 L1032.2 652.8 L1032.9 663.3 L1033.6 659.6 L1034.3 656.4 L1035 652.9 L1035.7 658.5 L1036.4 660.2 L1037.1 665.4 L1037.8 665.8 L1038.5 664.8 L1039.2 663.3 L1039.8 666.5 L1040.4 668.4 L1041 669.9 L1041.7 671.1 L1042.3 673.8 L1043 666.9 L1043.7 660.8 L1044.4 655 L1045.1 658.7 L1045.8 659.1 L1046.5 663.3 L1047.2 660.2 L1047.8 660 L1048.5 657.1 L1049.2 656.6 L1049.8 656.4 L1050.4 656.7 L1051 658.9 L1051.7 659.2 L1052.3 659.2 L1052.9 662 L1053.5 662.3 L1054.2 663.3 L1054.8 662.3 L1055.5 663.2 L1056.2 664.3 L1056.9 667.5 L1057.9 698.8 L1058.6 697.4 L1059.3 698.7 L1060 698.8 L1060.7 700.2 L1061.4 700 L1062.1 700.8 L1062.8 697.2 L1063.5 695 L1064.2 692.5 L1064.9 697.1 L1065.6 701.4 L1066.2 705 L1066.9 701.7 L1067.6 697.8 L1068.3 692.5 L1069 695.8 L1069.7 696.8 L1070.4 700.8 L1071.1 701.3 L1071.8 698.7 L1072.5 698.8 L1073.2 705.2 L1073.9 710.8 L1074.6 717.5 L1075.3 704.4 L1076 688.7 L1076.7 675.8 L1077.3 675.4 L1077.9 675.8 L1078.5 675.9 L1079.2 678.8 L1079.8 677.9 L1080.4 678.2 L1081 677.3 L1081.7 677.6 L1082.3 679.6 L1082.9 677.9 L1083.6 680.7 L1084.3 682.6 L1085 686.2 L1085.7 688 L1086.4 688.2 L1087.1 688.3 L1087.7 692.5 L1088.3 692 L1089 695.7 L1089.6 699.4 L1090.2 700.8 L1090.9 709.6 L1091.6 717.5 L1092.3 723.8 L1092.9 719.3 L1093.5 717.2 L1094.2 713.7 L1094.8 711 L1095.4 709.2 L1096 711.5 L1096.7 710.8 L1097.3 712.7 L1097.9 711.4 L1098.5 713.8 L1099.2 713.1 L1099.8 713.1 L1100.4 714.6 L1101 716.4 L1101.7 717.8 L1102.3 715.7 L1102.9 718.2 L1103.5 718.8 L1104.2 722.3 L1104.9 724 L1105.6 727.7 L1106.2 731.2 L1106.9 725.9 L1107.5 721.9 L1108.1 717.9 L1108.8 714.6 L1109.4 715.8 L1110 716.8 L1110.6 716.1 L1111.2 716.3 L1111.9 718.8 L1112.5 719 L1113.1 721 L1113.8 720.2 L1114.4 721.4 L1115 722.9 L1115.7 715 L1116.4 710 L1117.1 702.1 L1117.7 701.4 L1118.3 698.9 L1119 698.2 L1119.6 698.4 L1120.2 697.9 L1120.9 693.9 L1121.6 690.1 L1122.3 685.4 L1122.9 684 L1123.5 684.3 L1124.2 686.1 L1124.8 685.1 L1125.4 685.4 L1126.1 688.2 L1126.8 691.7 L1127.5 695.8 L1128.2 691.8 L1128.9 684.1 L1129.6 679.2 L1130.2 679 L1130.8 677.8 L1131.5 677.6 L1132.1 678.7 L1132.7 677.1 L1133.4 678.1 L1134.1 675.2 L1134.8 675 L1135.5 671.2 L1136.2 670.2 L1136.9 666.7 L1137.5 664 L1138.1 661.7 L1138.8 663 L1139.4 659.7 L1140 658.3 L1140.6 661.1 L1141.2 661.3 L1141.9 664.6 L1142.5 664.9 L1143.1 666.7 L1143.8 666.9 L1144.5 667.8 L1145.2 670.8 L1145.9 677.3 L1146.6 683.8 L1147.3 689.6 L1148 691.7 L1148.7 689.6 L1149.4 691.7 L1150.4 685.4 L1151.1 685.1 L1151.8 683.6 L1152.5 683.3 L1153.2 688.9 L1153.9 693.2 L1154.6 700 L1155.4 701.3 L1156.2 704.2 L1156.7 783.3 L1157.4 775.8 L1158.1 769.5 L1158.8 760.4 L1159.4 754.9 L1160.1 752.1 L1160.8 747.9 L1161.5 744.1 L1162.2 739.8 L1162.9 733.3 L1163.6 732.3 L1164.3 732.1 L1165 733.3 L1165.8 744.2 L1166.7 752.1 L1167.4 743.3 L1168.1 731.2 L1168.8 727 L1169.5 721.4 L1170.2 718.8 L1170.9 720.2 L1171.6 718.4 L1172.2 720.1 L1172.9 718.8 L1173.5 722.3 L1174.2 726.1 L1174.8 727 L1175.4 731.2 L1176.1 730.8 L1176.8 727.5 L1177.5 727.1 L1178.2 725.4 L1178.9 725.5 L1179.6 722.9 L1180.3 720.6 L1181 714.9 L1181.7 712.5 L1182.4 705.3 L1183.1 699.7 L1183.8 693.8 L1184.4 691 L1185.1 687.8 L1185.8 685.4 L1186.5 679.3 L1187.2 674.8 L1187.9 670.8 L1188.6 677.2 L1189.3 683.3 L1190 687.5 L1190.7 681.1 L1191.4 678 L1192.1 672.9 L1192.8 675.9 L1193.5 675.5 L1194.2 679.2 L1194.9 676.8 L1195.6 670.9 L1196.2 668.8 L1196.9 674.6 L1197.6 680 L1198.3 685.4 L1199 683.1 L1199.7 679.2 L1200.4 677.1 L1201 674.3 L1201.7 672.4 L1202.3 669.3 L1202.9 667.6 L1203.5 664.6 L1204.2 666.5 L1204.9 668.5 L1205.6 670.8 L1206.2 669.2 L1206.9 671.2 L1207.5 670.8 L1208.1 669.9 L1208.8 670.8 L1209.4 674.5 L1210.1 677.3 L1210.8 679.2 L1211.5 676.9 L1212.2 673.9 L1212.9 672.9 L1213.6 672.1 L1214.3 670.2 L1215 670.8 L1215.7 672.3 L1216.4 676.2 L1217.1 679.2 L1217.8 679.9 L1218.5 683.1 L1219.2 685.4 L1219.9 683.4 L1220.6 679.7 L1221.2 679.2 L1221.9 679.6 L1222.5 677.7 L1223.1 680 L1223.8 680.1 L1224.4 679.2 L1225.1 678.5 L1225.8 676.3 L1226.5 677.1 L1227.1 677.5 L1227.7 677.5 L1228.3 679.9 L1229 677.5 L1229.6 679.2 L1230.3 681.1 L1231 682.2 L1231.7 681.2 L1232.4 679.3 L1233.1 676.8 L1233.8 672.9 L1234.4 664.2 L1235.1 659.3 L1235.8 650 L1236.5 647.2 L1237.2 646 L1237.9 641.7 L1238.6 643.8 L1239.3 641.9 L1240 643.8 L1240.7 643.3 L1241.4 642.4 L1242.1 639.6 L1242.7 638.1 L1243.3 639.1 L1244 640.5 L1244.6 638.4 L1245.2 639.6 L1245.8 639.7 L1246.5 636.3 L1247.1 636.9 L1247.7 633.4 L1248.3 633.3 L1249 636.1 L1249.7 640.3 L1250.4 641.7 L1251.1 640 L1251.8 639.5 L1252.5 639.6 L1253.2 641 L1253.9 641.7 L1254.6 643.8 L1255.3 640.8 L1256 639.9 L1256.7 639.6 L1257.4 646.1 L1258.1 656.3 L1258.8 662.5 L1259.4 663.8 L1260.1 665.2 L1260.8 664.6 L1261.5 661.4 L1262.2 661.4 L1262.9 658.3 L1263.6 655.6 L1264.3 655.7 L1265 654.2 L1265.7 651.9 L1266.4 648.1 L1267.1 645.8 L1267.8 651.3 L1268.5 654.4 L1269.2 658.3 L1269.9 656.5 L1270.6 655.5 L1271.2 652.1 L1271.9 652.1 L1272.6 656.5 L1273.3 656.2 L1274 656 L1274.7 654.5 L1275.4 654.2 L1276.1 655.9 L1276.8 654.8 L1277.5 656.2 L1278.2 655.1 L1278.9 651 L1279.6 647.9 L1280.3 644.7 L1281 643.3 L1281.7 639.6 L1282.4 640.1 L1283.1 639.9 L1283.8 641.7 L1284.4 636.9 L1285.1 629 L1285.8 625 L1286.5 624 L1287.2 620 L1287.9 618.8 L1288.5 618.4 L1289.2 618.7 L1289.8 616.5 L1290.4 616 L1291 614.6 L1291.7 612.6 L1292.4 610.1 L1293.1 610.4 L1293.8 602.6 L1294.5 596.7 L1295.2 591.7 L1295.9 592.1 L1296.6 591.4 L1297.3 591.7 L1298 589.6 L1298.7 588.8 L1299.4 585.4 L1300.1 579.3 L1300.8 574.8 L1301.5 570.8 L1302.2 568.6 L1302.8 563.7 L1303.5 562.5 L1304.2 562.9 L1304.9 566.2 L1305.6 568.8 L1306.3 570.2 L1307 573.8 L1307.7 577.1 L1308.8 558.3 L1309.4 557.4 L1310.1 558.6 L1310.8 558.3 L1311.5 559.3 L1312.2 558.7 L1312.9 560.4 L1313.5 562.1 L1314.2 562.8 L1314.8 562.9 L1315.4 566.9 L1316 566.7 L1316.7 563 L1317.4 559.9 L1318.1 558.3 L1319.2 529.2 L1319.9 525.7 L1320.6 525.5 L1321.2 522.9 L1321.9 524.2 L1322.6 523.9 L1323.3 522.9 L1324.2 507.1 L1324.9 501.9 L1325.6 496.6 L1326.2 492.5 L1326.9 483.9 L1327.6 479.1 L1328.3 471.7 L1329 459.4 L1329.7 446.2 L1330.4 434.2 L1331.1 437.4 L1331.8 439.5 L1332.5 442.5 L1333.5 461.2 L1334.2 457.9 L1334.9 452.3 L1335.6 446.7 L1336.3 448.6 L1337 453.6 L1337.7 455 L1338.4 461.1 L1339.1 470.4 L1339.8 477.9 L1340.4 478 L1341 477.9 L1341.7 477.7 L1342.3 480.5 L1342.9 480 L1344 463.3 L1344.7 461.7 L1345.3 463.5 L1346 463.3 L1347.1 448.8 L1347.8 446.8 L1348.5 440.6 L1349.2 438.3 L1350.2 413.3 L1350.9 410.9 L1351.6 410.9 L1352.3 409.2 L1353 407.1 L1353.7 405.5 L1354.4 402.9 L1355.4 392.5 L1356.2 387.3 L1357.1 380 L1357.8 387.2 L1358.5 396.7 L1359.6 409.2 L1360.3 409.9 L1361 411.3 L1361.7 413.3 L1362.7 402.9 L1363.4 400.7 L1364.1 402.9 L1364.8 400.8 L1365.5 396.2 L1366.2 390.5 L1366.9 384.2 L1367.6 377.6 L1368.3 375.6 L1369 369.6 L1369.7 373.2 L1370.3 375 L1371 377.9 L1371.7 378 L1372.4 376.4 L1373.1 375.8 L1373.8 380.5 L1374.5 385.6 L1375.2 392.5 L1375.9 388.1 L1376.6 384 L1377.3 382.1 L1378 379.1 L1378.7 378.1 L1379.4 374.8 L1380 375.7 L1380.6 376.4 L1381.2 376.1 L1381.9 374.8 L1382.5 375.8 L1383.2 374.6 L1383.9 372.8 L1384.6 371.7 L1385.3 369.2 L1386 364.8 L1386.7 361.2 L1387.4 361.1 L1388.1 363.1 L1388.8 363.3 L1389.4 371.2 L1390.1 374.9 L1390.8 382.1 L1391.5 387.1 L1392.1 387.9 L1392.7 392.5 L1393.3 396.2 L1394 400.8 L1394.7 396.8 L1395.3 392.6 L1396 386.2 L1396.7 384.3 L1397.4 380.1 L1398.1 377.9 L1399.2 386.2 L1399.9 384.1 L1400.6 378.7 L1401.2 375.8 L1401.9 376.3 L1402.6 380 L1403.3 380 L1404.4 398.8 L1405.1 405.4 L1405.8 411.9 L1406.5 417.5 L1407.5 438.3 L1408.2 442.4 L1408.9 446.9 L1409.6 448.8 L1410.3 451.4 L1411 455.5 L1411.7 457.1 L1412.4 453.6 L1413.1 450 L1413.8 444.6 L1414.4 447.8 L1415.1 452.3 L1415.8 455 L1416.5 459.4 L1417.2 462.7 L1417.9 467.5 L1418.6 462.4 L1419.3 459.6 L1420 455 L1420.6 449.8 L1421.2 448.9 L1421.9 442.5 L1422.5 438.4 L1423.1 436.2 L1423.8 439.8 L1424.5 447.4 L1425.2 450.8 L1425.9 457.9 L1426.6 464.9 L1427.3 473.8 L1428 472.1 L1428.7 472.2 L1429.4 473.8 L1430.1 468.8 L1430.8 463.1 L1431.5 457.1 L1432.2 458.4 L1432.8 459.3 L1433.5 459.2 L1434.2 459.8 L1434.9 463.6 L1435.6 465.4 L1436.2 465.8 L1436.9 468.2 L1437.5 469 L1438.1 470.1 L1438.8 469.6 L1439.4 469.4 L1440 473.3 L1440.6 474.7 L1441.2 476.1 L1441.9 475.8 L1442.6 477.3 L1443.3 480.4 L1444 484.2 L1444.7 475.9 L1445.3 468.7 L1446 463.3 L1446.7 456.9 L1447.4 449.1 L1448.1 440.4 L1448.8 437.4 L1449.5 434.6 L1450.2 430 L1450.9 433.9 L1451.6 436.2 L1452.3 440.4 L1453 431.4 L1453.7 423.8 L1454.4 417.5 L1455.1 417 L1455.8 413.7 L1456.5 413.3 L1457.2 412 L1457.8 411.7 L1458.5 411.2 L1459.2 408.8 L1459.8 408.8 L1460.4 408 L1461 408.7 L1461.7 407.1 L1462.4 405.2 L1463.1 403.7 L1463.8 402.9 L1464.4 405.9 L1465.1 405.7 L1465.8 407.1 L1466.5 409 L1467.2 408.9 L1467.9 409.2 L1468.6 404.1 L1469.3 401.9 L1470 398.8 L1470.8 395.4 L1471.7 392.5 L1472.3 399.2 L1472.9 403.4 L1473.5 410.4 L1474.2 415.4 L1474.9 412.8 L1475.6 408.9 L1476.2 407.1 L1476.9 409 L1477.6 407.1 L1478.3 409.2 L1479.2 420.7 L1480 430 L1480.6 426.8 L1481.2 424.1 L1481.9 422.7 L1482.5 421.7 L1483.2 425.3 L1483.9 428.8 L1484.6 430 L1485.3 420.7 L1486 414.7 L1486.7 407.1 L1487.4 400.8 L1488.1 395.6 L1488.8 388.3 L1489.4 385.9 L1490.1 385.5 L1490.8 384.2 L1491.5 381.6 L1492.2 381.1 L1492.9 377.9 L1493.6 372.9 L1494.3 371.1 L1495 365.4 L1495.7 361.2 L1496.4 357.5 L1497.1 355 L1497.8 358.5 L1498.5 360.5 L1499.2 363.3 L1499.9 364.1 L1500.6 368 L1501.2 369.6 L1501.9 366.1 L1502.6 366.4 L1503.3 363.3 L1504 364.7 L1504.7 365.7 L1505.4 365.4 L1506.1 364.5 L1506.8 362.1 L1507.5 361.2 L1508.5 352.9 L1509.2 354 L1509.9 355.3 L1510.6 357.1 L1511.3 361.9 L1512 362.6 L1512.7 367.5 L1513.4 370.9 L1514.1 370.1 L1514.8 373.8 L1515.5 373.4 L1516.2 374.3 L1516.9 375.8 L1517.6 379.3 L1518.3 380 L1519 382.1 L1520 375.8 L1520.7 376.8 L1521.4 379.9 L1522.1 380 L1522.8 386 L1523.5 393.8 L1524.2 400.8 L1524.9 402.3 L1525.6 404.5 L1526.2 405 L1526.9 406.6 L1527.6 406.9 L1528.3 407.1 L1529 407 L1529.6 407.3 L1530.2 407.2 L1530.8 409.9 L1531.5 409.2 L1532.1 407.6 L1532.7 405.8 L1533.3 401.8 L1534 400.6 L1534.6 398.8 L1535.3 399.7 L1536 399 L1536.7 398.8 L1537.4 401 L1538.1 405.6 L1538.8 409.2 L1539.4 411.2 L1540.1 409.7 L1540.8 411.2 L1541.5 413 L1542.2 416.1 L1542.9 419.6 L1543.6 423.1 L1544.3 426.3 L1545 427.9 L1545.7 425.4 L1546.4 424 L1547.1 423.8 L1547.8 423.6 L1548.5 424.5 L1549.2 425.8 L1549.9 429.4 L1550.6 431.6 L1551.2 436.2 L1552.3 455 L1553 453 L1553.7 451.2 L1554.4 450.8 L1555 451.6 L1555.6 449.9 L1556.2 447 L1556.9 449.1 L1557.5 446.7 L1558.2 437.7 L1558.9 431 L1559.6 423.8 L1560.4 421.7 L1561.1 421.9 L1561.8 419.9 L1562.5 417.5 L1563.2 420.4 L1563.9 421.4 L1564.6 423.8 L1565.3 422 L1566 422.8 L1566.7 421.7 L1567.4 428.7 L1568.1 437.3 L1568.8 446.7 L1569.4 445.6 L1570.1 443.7 L1570.8 444.6 L1571.5 436.6 L1572.2 430.3 L1572.9 421.7 L1573.6 429.3 L1574.3 435.6 L1575 442.5 L1576 427.9 L1576.7 433.2 L1577.4 437.5 L1578.1 442.5 L1578.8 438.5 L1579.5 437.3 L1580.2 434.2 L1580.9 436.6 L1581.6 440.5 L1582.3 442.5 L1583 439.7 L1583.7 433.9 L1584.4 430 L1585.1 429.6 L1585.8 429.5 L1586.5 427.9 L1587.2 422.8 L1587.8 417.3 L1588.5 413.3 L1589.2 412 L1589.9 410.5 L1590.6 407.1 L1591.3 409.4 L1592 410.5 L1592.7 411.2 L1593.4 415.2 L1594.1 417.4 L1594.8 419.6 L1595.5 422.8 L1596.2 425 L1596.9 427.9 L1597.9 436.2 L1598.6 434.9 L1599.3 435.3 L1600 434.2 L1600.7 432.1 L1601.4 432.5 L1602.1 432.1 L1602.8 434.4 L1603.5 435.6 L1604.2 436.2 L1604.9 438.1 L1605.6 438.2 L1606.2 440.4 L1606.9 440.9 L1607.6 441.7 L1608.3 442.5 L1609 442.2 L1609.7 440.8 L1610.4 440.4 L1611.1 445.9 L1611.8 451.6 L1612.5 455 L1613.5 469.6 L1614.6 488.3 L1615.3 485.2 L1616 484.7 L1616.7 482.1 L1617.4 485.8 L1618.1 487.3 L1618.8 490.4 L1619.4 489 L1620.1 489.3 L1620.8 486.2 L1621.5 484.7 L1622.2 486.4 L1622.9 486.2 L1623.6 486.5 L1624.3 490 L1625 490.4 L1625.7 487.1 L1626.4 480.8 L1627.1 475.8 L1627.8 473.8 L1628.5 474.7 L1629.2 473.8 L1629.9 476 L1630.6 478.7 L1631.2 480 L1631.9 482.8 L1632.6 486 L1633.3 488.3 L1634.4 505 L1635 532.1 L1636 546.7 L1637.1 559.2 L1637.7 556.6 L1638.3 551.9 L1639 547.9 L1639.6 544.6 L1640.3 545.4 L1641 542.2 L1641.7 542.5 L1642.4 546.6 L1643.1 549.1 L1643.8 552.9 L1644.6 555.9 L1645.4 557.1 L1646 551.1 L1646.7 549.4 L1647.3 542.5 L1647.9 538.3 L1648.6 542.4 L1649.3 548.7 L1650 555 L1650.8 554.7 L1651.7 555 L1652.4 547.1 L1653.1 542.5 L1653.8 535.3 L1654.5 528.3 L1655.2 521.7 L1655.9 525.1 L1656.6 526.7 L1657.3 530 L1658 532.7 L1658.7 536 L1659.4 540.4 L1660.4 521.7 L1661 523.7 L1661.7 525.7 L1662.3 525.5 L1662.9 525.7 L1663.5 527.9 L1664.2 529.6 L1664.9 528.9 L1665.6 530 L1666.2 526.9 L1666.9 524.6 L1667.5 524.7 L1668.1 522.7 L1668.8 519.6 L1669.4 520 L1670.1 519.5 L1670.8 519.6 L1671.5 523.3 L1672.2 525.6 L1672.9 530 L1674 542.5 L1674.6 544.5 L1675.2 542.8 L1675.8 544.2 L1676.5 545.3 L1677.1 544.6 L1677.8 548.4 L1678.5 550 L1679.2 552.9 L1679.9 552.2 L1680.6 553.1 L1681.2 552.9 L1681.9 553.7 L1682.6 558.2 L1683.3 559.2 L1684 552.4 L1684.7 547.9 L1685.4 540.4 L1686.2 536.5 L1687.1 534.2 L1687.8 543.1 L1688.5 552.9 L1689.2 552.1 L1689.9 552.7 L1690.6 552.9 L1691.3 554.6 L1692 556.8 L1692.7 561.2 L1693.4 562.7 L1694.1 561.9 L1694.8 563.3 L1695.5 559.7 L1696.2 557.1 L1696.9 555 L1697.6 554.2 L1698.3 553.4 L1699 552.9 L1699.7 552.7 L1700.3 552.1 L1701 550.8 L1701.7 551.8 L1702.4 555.1 L1703.1 555 L1703.8 557.6 L1704.5 556.3 L1705.2 559.2 L1705.9 558.9 L1706.6 557.8 L1707.3 555 L1708 557.4 L1708.7 556.6 L1709.4 559.2 L1710.1 558.9 L1710.8 556.8 L1711.5 555 L1712.5 546.7 L1713.2 544.3 L1713.9 543.6 L1714.6 544.6 L1715.3 546.1 L1716 545.1 L1716.7 544.6 L1717.4 542.3 L1718.1 540.5 L1718.8 540.4 L1719.8 546.7 L1720.8 571.7 L1721.9 588.3 L1722.6 584.3 L1723.3 581.9 L1724 580 L1724.7 581.6 L1725.3 580.9 L1726 582.1 L1726.7 583 L1727.4 587.6 L1728.1 588.3 L1728.8 587.2 L1729.5 583 L1730.2 582.1 L1730.9 585.5 L1731.6 586.6 L1732.3 588.3 L1733 585.8 L1733.7 582 L1734.4 577.9 L1735.1 578.6 L1735.8 577.5 L1736.5 575.8 L1737.2 577 L1737.8 574.8 L1738.5 575.8 L1739.2 575.1 L1739.9 573.2 L1740.6 571.7 L1741.3 574.6 L1742 575.6 L1742.7 577.9 L1743.4 579.9 L1744.1 579.5 L1744.8 580 L1745.5 579.2 L1746.2 579.1 L1746.9 580 L1747.6 578.1 L1748.3 578.6 L1749 577.9 L1749.7 577.8 L1750.3 580.6 L1751 582.1 L1751.7 580.2 L1752.4 580.7 L1753.1 580 L1753.8 579.2 L1754.4 578.5 L1755 578.7 L1755.6 575 L1756.2 575.8 L1756.9 572.1 L1757.6 566 L1758.3 561.2 L1759 555.2 L1759.7 549.3 L1760.4 542.5 L1761.1 542.3 L1761.8 539.3 L1762.5 538.3 L1763.2 534.6 L1763.9 533 L1764.6 527.9 L1765.2 526.1 L1765.8 527.5 L1766.5 527.1 L1767.1 524.6 L1767.7 525.8 L1768.3 526.2 L1769 526.5 L1769.6 527.3 L1770.2 525.3 L1770.8 525.8 L1771.5 528.3 L1772.1 527.5 L1772.7 528.3 L1773.3 530.5 L1774 530 L1774.7 531.2 L1775.3 536.3 L1776 538.3 L1776.7 533.2 L1777.4 526.7 L1778.1 521.7 L1778.8 521.5 L1779.5 518.4 L1780.2 517.5 L1780.9 518.1 L1781.6 519 L1782.3 519.6 L1783 522.6 L1783.7 522.8 L1784.4 525.8 L1785.1 524.9 L1785.8 524.2 L1786.5 523.8 L1787.2 526.6 L1787.9 530.2 L1788.6 531 L1789.3 535.5 L1790 537.1 L1790.7 544 L1791.5 551.7 L1792.2 545.4 L1792.9 539.2 L1793.5 518.3 L1794.2 511.3 L1794.9 505.9 L1795.6 499.6 L1796.3 499.8 L1797 497.3 L1797.7 495.4 L1798.3 496.8 L1799 495.7 L1799.6 496 L1800.2 496.4 L1800.8 497.5 L1801.5 496.4 L1802.2 495.2 L1802.9 493.3 L1803.5 494.7 L1804.2 492.6 L1804.8 495.3 L1805.4 496.3 L1806 495.4 L1806.7 493.5 L1807.3 489.7 L1807.9 488.5 L1808.5 485.4 L1809.2 485 L1809.8 483.1 L1810.4 484.8 L1811 482.9 L1811.7 482.2 L1812.3 480.8 L1813 483.2 L1813.7 485 L1814.4 485 L1815.1 492.7 L1815.8 499.6 L1816.7 500 L1817.5 499.6 L1818.3 492.7 L1819.2 485 L1819.8 487.2 L1820.4 488.5 L1821 490.3 L1821.7 491.2 L1822.4 489.6 L1823.1 490.4 L1823.8 489.2 L1824.4 492.5 L1825.1 497 L1825.8 499.6 L1826.5 498.9 L1827.2 499.9 L1827.9 501.7 L1828.5 500.5 L1829.2 503.4 L1829.8 504.3 L1830.4 503.9 L1831 503.8 L1831.7 503.3 L1832.4 504.8 L1833.1 503.8 L1833.8 506.1 L1834.5 506.7 L1835.2 507.9 L1835.9 503.6 L1836.6 500.3 L1837.3 497.5 L1838 497.9 L1838.7 498.3 L1839.4 499.6 L1840.1 502.1 L1840.8 505.6 L1841.5 507.9 L1842.2 509.4 L1842.8 506.4 L1843.5 507.9 L1844.2 509 L1844.8 508 L1845.4 509.1 L1846 512.3 L1846.7 512.1 L1847.4 511 L1848.1 510.7 L1848.8 507.9 L1849.4 503.6 L1850.1 497.9 L1850.8 495.4 L1851.9 478.8 L1852.6 478.4 L1853.3 479.1 L1854 478.8 L1854.6 479.8 L1855.2 479.6 L1855.8 477.4 L1856.5 476.8 L1857.1 476.7 L1857.8 476 L1858.5 478.5 L1859.2 478.8 L1859.9 481.2 L1860.6 484.5 L1861.2 489.2 L1861.9 484.7 L1862.6 481.9 L1863.3 480.8 L1864 482.8 L1864.7 482.3 L1865.4 485 L1866.1 486.6 L1866.8 483.6 L1867.5 485 L1868.2 487.6 L1868.9 486.5 L1869.6 489.2 L1870.2 487.5 L1870.8 489.9 L1871.5 488.3 L1872.1 490 L1872.7 489.2 L1873.3 488.1 L1874 487.6 L1874.6 490.1 L1875.2 489.9 L1875.8 489.2 L1876.5 489.5 L1877.1 488.3 L1877.7 485.3 L1878.3 486.3 L1879 485 L1879.6 486.5 L1880.2 486.5 L1880.8 489 L1881.5 487.5 L1882.1 489.2 L1882.8 497 L1883.5 502.4 L1884.2 507.9 L1884.9 505.6 L1885.6 504.9 L1886.2 505.8 L1886.9 507 L1887.6 508.3 L1888.3 507.9 L1889 503.7 L1889.7 501.7 L1890.4 499.6 L1891.1 503.1 L1891.8 504 L1892.5 507.9 L1893.2 509.1 L1893.9 507.9 L1894.6 507.9 L1895.3 507.1 L1896 508.9 L1896.7 510 L1897.4 510.9 L1898.1 511.2 L1898.8 512.1 L1899.4 510.6 L1900.1 506.7 L1900.8 505.8 L1901.5 505.5 L1902.2 502.6 L1902.9 501.7 L1903.6 503.5 L1904.3 504.9 L1905 505.8 L1905.7 505.6 L1906.4 505.4 L1907.1 505.8 L1907.8 504.7 L1908.5 503.2 L1909.2 499.6 L1909.9 499.9 L1910.6 498.4 L1911.2 497.5 L1911.9 496.1 L1912.6 494.6 L1913.3 495.4 L1914 499.1 L1914.7 500.3 L1915.4 501.7 L1916.1 503.5 L1916.8 502.5 L1917.5 503.8 L1918.2 500.6 L1918.9 498.4 L1919.6 493.3 L1920.3 491.7 L1921 488.1 L1921.7 485 L1922.7 468.3 L1923.8 460 L1924.4 459.3 L1925.1 459.8 L1925.8 460 L1926.5 461.3 L1927.2 459.6 L1927.9 460 L1928.6 459.9 L1929.3 459 L1930 457.9 L1930.7 458.6 L1931.4 457.6 L1932.1 455.8 L1932.8 452.3 L1933.5 448.6 L1934.2 447.5 L1934.9 448.1 L1935.6 450 L1936.2 451.7 L1936.9 451.3 L1937.6 451.4 L1938.3 449.6 L1939 452.3 L1939.7 450.8 L1940.4 453.8 L1941.1 452.8 L1941.8 450.6 L1942.5 447.5 L1943.1 448.7 L1943.8 447.7 L1944.4 446.7 L1945 448.7 L1945.6 447.5 L1946.7 439.2 L1947.7 418.3 L1948.4 420.8 L1949.1 421.7 L1949.8 422.5 L1950.5 426.7 L1951.2 427.5 L1951.9 430.8 L1952.5 428.2 L1953.1 428.5 L1953.8 428.1 L1954.4 424.8 L1955 424.6 L1955.6 425 L1956.2 425.2 L1956.9 422.4 L1957.5 423.3 L1958.1 422.5 L1958.8 424.5 L1959.5 425.2 L1960.2 426.7 L1960.9 425.7 L1961.6 425.8 L1962.3 426.7 L1963 426.1 L1963.7 424.9 L1964.4 422.5 L1965.1 421.7 L1965.8 419.7 L1966.5 420.4 L1967.2 418 L1967.8 414.4 L1968.5 410 L1969.2 413.3 L1969.9 418.6 L1970.6 422.5 L1971.3 425.9 L1972 428 L1972.7 428.8 L1973.4 429.5 L1974.1 430.1 L1974.8 430.8 L1975.5 433.2 L1976.2 433.9 L1976.9 437.1 L1977.6 434 L1978.3 431.8 L1979 430.8 L1980 420.4 L1980.7 423.2 L1981.4 424.1 L1982.1 426.7 L1982.7 426.5 L1983.3 425.5 L1984 425.5 L1984.6 423.8 L1985.2 424.6 L1986.2 414.2 L1986.9 407.8 L1987.6 406.1 L1988.3 399.6 L1989 397.1 L1989.7 394.1 L1990.4 393.3 L1991.1 393.1 L1991.8 392.9 L1992.5 391.2 L1993.2 392.2 L1993.9 395.7 L1994.6 397.5 L1995.3 394.2 L1996 392 L1996.7 389.2 L1997.7 366.2 L1998.4 362.5 L1999.1 360.5 L1999.8 360 L2000.8 349.6 L2001.5 351.3 L2002.2 350.8 L2002.9 349.6 L2003.6 346.1 L2004.3 342.9 L2005 339.2 L2005.7 341.1 L2006.4 345.7 L2007.1 347.5 L2007.8 352.1 L2008.5 358.7 L2009.2 362.1 L2009.9 360.9 L2010.6 359 L2011.2 355.8 L2011.9 353.9 L2012.6 348.1 L2013.3 345.4 L2014 343.2 L2014.7 343 L2015.4 343.3 L2016.1 342.3 L2016.7 342 L2017.4 342 L2018 343.8 L2018.7 344.9 L2019.3 343.5 L2020 343.8 L2020.6 344 L2021.2 342.6 L2021.9 340 L2022.5 341.6 L2023.1 346.2 L2023.8 352.8 L2024.4 358.8 L2025 360.5 L2025.6 361.6 L2026.2 365 L2026.9 362.8 L2027.5 357.5 L2028.1 352.9 L2028.8 350 L2029.4 352.7 L2030 355 L2030.6 356.7 L2031.2 359.1 L2031.9 358.8 L2032.5 363.1 L2033.1 365.9 L2033.8 369.8 L2034.4 373.8 L2035 366.3 L2035.6 361.2 L2036.2 361.6 L2036.9 358.8 L2037.5 362.9 L2038.1 363.8 L2038.8 364.1 L2039.4 364.7 L2040 367.5 L2040.6 365.4 L2041.2 364.5 L2041.9 363.8 L2042.5 359.5 L2043.1 352.5 L2043.8 351.4 L2044.4 348.6 L2045 343.5 L2045.6 342.5 L2046.2 348.5 L2046.9 352.5 L2047.5 351.1 L2048.1 348.8 L2048.8 346.2 L2049.4 348.8 L2050 346.6 L2050.6 347.9 L2051.2 350 L2051.9 349 L2052.5 347.7 L2053.1 345 L2053.8 342.5 L2054.4 340.6 L2055 340 L2055.6 342 L2056.2 344.2 L2056.9 345 L2057.5 345.3 L2058.1 347.7 L2058.8 350 L2059.4 350.1 L2060 350.6 L2060.6 352.7 L2061.2 353.8 L2061.9 353.6 L2062.5 354.7 L2063.1 355.3 L2063.8 357.5 L2064.4 360.6 L2065 360.8 L2065.6 365 L2066.2 367 L2066.9 366.5 L2067.5 368.8 L2068.1 364 L2068.8 362.5 L2069.4 365.2 L2070 365 L2070.6 370.9 L2071.2 378.8 L2071.9 381.5 L2072.5 382.5 L2073.1 382.5 L2073.8 383 L2074.4 379.6 L2075 380 L2075.6 377.7 L2076.2 374.5 L2076.9 373.8 L2077.5 367.1 L2078.1 357.5 L2078.8 356.6 L2079.4 353.8 L2080 351.2 L2080.8 348.6 L2081.5 346.2 L2082.3 350.1 L2083.1 355 L2083.8 354.4 L2084.4 351.6 L2085 350 L2085.8 348.6 L2086.5 346.2 L2087.3 350 L2088.1 356.2 L2088.8 365.3 L2089.4 374.7 L2090 386.2 L2090.6 377.6 L2091.2 367.5 L2091.9 367.3 L2092.5 365.5 L2093.1 366.2 L2093.8 370.4 L2094.4 371.3 L2095 375 L2095.6 373 L2096.2 370.5 L2096.9 370 L2097.5 371.3 L2098.1 375.3 L2098.8 376.2 L2099.4 366.9 L2100 358.8 L2100.6 357.2 L2101.2 357.9 L2101.9 357.5 L2102.5 363.8 L2103.1 371.2 L2103.8 373.5 L2104.4 371.6 L2105 373.8 L2105.6 376.2 L2106.2 373.9 L2106.9 376.2 L2107.5 381.8 L2108.1 385.2 L2108.8 388.8 L2109.4 386.1 L2110 385.3 L2110.6 383.8 L2111.2 379.7 L2111.9 376.3 L2112.5 373.8 L2113.1 370.9 L2113.8 370 L2114.4 369.5 L2115 371.7 L2115.6 370 L2116.2 361.2 L2116.9 362.5 L2117.5 361.9 L2118.1 360 L2118.8 357.4 L2119.4 356.8 L2120 356.2 L2120.6 357 L2121.2 355 L2121.9 356 L2122.5 360 L2123.1 368.8 L2123.8 369.1 L2124.4 367.2 L2125 367.5 L2125.6 364.8 L2126.2 358.8 L2126.9 360 L2127.5 365.6 L2128.1 367.5 L2128.8 368.8 L2129.4 371.2 L2130 363.2 L2130.6 357.5 L2131.2 351.2 L2131.9 348.6 L2132.5 350.5 L2133.1 348.5 L2133.8 347.5 L2134.4 347.3 L2135 348.9 L2135.6 350 L2136.2 354.5 L2136.9 356.2 L2137.5 353.6 L2138.1 353.2 L2138.8 351.2 L2139.4 337.5 L2140 337.5 L2140.6 338.9 L2141.2 341.2 L2141.9 345.3 L2142.5 347.5 L2143.1 348.8 L2143.8 348.8 L2144.4 332.5 L2145 329.6 L2145.6 328.8 L2146.2 316.2 L2146.9 307.5 L2147.5 304.8 L2148.1 305 L2148.8 302.8 L2149.4 303.7 L2150 302.5 L2150.6 301.9 L2151.2 301.2 L2151.9 296.1 L2152.5 292.5 L2153.1 288.4 L2153.8 286.2 L2154.4 290.4 L2155 294.5 L2155.6 297.5 L2156.2 297.7 L2156.9 296.1 L2157.5 295 L2158.1 292.7 L2158.8 291 L2159.4 292 L2160 290 L2160.6 288.4 L2161.2 288.3 L2161.9 286.2 L2162.5 285.6 L2163.1 289 L2163.8 288.8 L2164.4 290.7 L2165 293.8 L2165.6 289.3 L2166.2 282.5 L2166.9 280 L2167.5 275 L2168.1 275.6 L2168.8 276.2 L2169.4 282.7 L2170 292.5 L2170.6 294.7 L2171.2 294.1 L2171.9 295 L2172.5 290 L2173.1 282.5 L2173.8 288.6 L2174.4 296.2 L2175 297.1 L2175.6 300 L2176.2 298 L2176.9 293.8 L2177.5 290 L2178.1 285.9 L2178.8 283.8 L2179.4 282.7 L2180 282.5 L2180.6 289.7 L2181.2 296.2 L2181.9 294.6 L2182.5 296.2 L2183.1 295.7 L2183.8 295 L2184.4 287.9 L2185 281.2 L2185.6 280.1 L2186.2 277.5 L2186.9 277.5 L2187.5 278.2 L2188.1 278.6 L2188.8 277.5 L2189.4 279.2 L2190 277.7 L2190.6 278.8 L2191.2 279.5 L2191.9 278.3 L2192.5 278.8 L2193.1 280 L2193.8 278.1 L2194.4 280 L2195 283.8 L2195.6 287.1 L2196.2 289.5 L2196.9 290 L2197.5 290.4 L2198.1 290.9 L2198.8 291.2 L2199.4 288.9 L2200 286.2 L2200.6 288.9 L2201.2 291.2 L2201.9 289.2 L2202.5 292 L2203.1 290 L2203.8 288.6 L2204.4 288.1 L2205 288.8 L2205.6 288.2 L2206.2 289.6 L2206.9 291.2 L2207.5 293.6 L2208.1 292.2 L2208.8 295 L2209.4 315 L2210 304.9 L2210.6 297.5 L2211.2 297.6 L2211.9 296.2 L2212.5 300.8 L2213.1 307.5 L2213.8 306.7 L2214.4 309.5 L2215 310 L2215.6 323.8 L2216.2 319 L2216.9 313.8 L2217.5 314.2 L2218.1 315.3 L2218.8 315 L2219.4 312.8 L2220 314.6 L2220.6 312.5 L2221.2 312.8 L2221.9 310.1 L2222.5 311.2 L2223.1 308.7 L2223.8 308.7 L2224.4 307.5 L2225 307.5 L2225.6 306.8 L2226.2 307.5 L2226.9 309.3 L2227.5 313.8 L2228.1 314.7 L2228.8 315 L2229.4 317.5 L2230 318.2 L2230.6 319.6 L2231.2 318.8 L2231.9 322.6 L2232.5 328.8 L2233.1 325.9 L2233.8 322.5 L2234.4 319.6 L2235 315 L2235.6 313 L2236.2 314.4 L2236.9 312.5 L2237.5 313.6 L2238.1 311.3 L2238.8 311.2 L2239.4 307.9 L2240 305 L2240.6 302.4 L2241.2 297.5 L2241.9 297 L2242.5 296.2 L2243.1 295.3 L2243.8 296.5 L2244.4 295.3 L2245 293.8 L2245.6 292.9 L2246.2 292.2 L2246.9 292.3 L2247.5 292.5 L2248.2 288.8 L2249 287.2 L2249.7 283.1 L2250.4 278.6 L2251.1 278.6 L2251.8 275.8 L2252.5 280 L2253.2 282.1 L2253.9 281.5 L2254.6 278.6 L2255.3 278.5 L2256 281.4 L2256.7 271.7 L2257.4 270.3 L2258.1 268.9 L2258.8 270.7 L2259.4 270.8 L2260.1 269.6 L2260.8 270.1 L2261.5 272.4 L2262.2 276.3 L2262.9 280.7 L2263.6 279.4 L2264.3 277.2 L2265.2 278.8 L2266 281.4 L2267.1 278.6 L2267.8 274.2 L2268.5 269.6 L2269.2 268.5 L2269.9 270.3 L2270.6 277.2 L2271.2 276.3 L2271.9 275.8 L2272.6 276.3 L2273.3 275.1 L2274 277.2 L2274.7 277.8 L2275.4 282.5 L2276.1 282.8 L2276.8 279.6 L2277.5 274.4 L2278.2 275.2 L2278.9 273.1 L2279.6 273.9 L2280.3 273.8 L2281 272.4 L2281.7 268.9 L2282.4 270.5 L2283.1 269.6 L2283.8 272.6 L2284.4 273.1 L2285.1 270.8 L2285.8 271.7 L2286.5 266.2 L2287.2 259.9 L2287.9 256.6 L2288.6 255 L2289.3 254.9 L2290 253.6 L2290.7 255.6 L2291.4 259.2 L2292.1 259 L2292.8 258.5 L2293.5 259.7 L2294.2 258.4 L2294.9 257.8 L2295.6 254.8 L2296.2 253.6 L2296.9 256.1 L2297.6 258.5 L2298.3 258.6 L2299 259.2 L2299.7 264.9 L2300.4 267.5 L2301.1 265 L2301.8 264 L2302.5 259.9 L2303.2 257.1 L2303.9 259.3 L2304.6 260.6 L2305.3 255.1 L2306 252.2 L2306.8 252.9 L2307.7 252.9 L2308.8 259.2 L2309.4 263.1 L2310.1 264 L2310.8 262.7 L2311.5 261.2 L2312.2 260.8 L2312.9 261.9 L2313.6 265 L2314.3 268.2 L2315 271.1 L2315.7 273.8 L2316.4 270.1 L2317.1 268.9 L2317.8 268.7 L2318.5 271 L2319.2 267.6 L2319.9 266.8 L2320.6 267.1 L2321.2 268.9 L2321.9 268.6 L2322.6 268.9 L2323.3 261.9 L2324 260.8 L2324.7 260.1 L2325.4 260.6 L2326.1 258.5 L2326.8 259.3 L2327.5 258.5 L2328.2 261 L2328.9 261.2 L2329.6 263.7 L2330.3 265.4 L2331 273.8 L2331.7 272.6 L2332.4 271 L2333.1 271.1 L2333.8 270.3 L2334.4 265.4 L2335.1 258.2 L2335.8 252.9 L2336.5 252.6 L2337.2 250.8 L2337.9 250.7 L2338.6 251 L2339.3 250.8 L2340 253 L2340.7 254.3 L2341.4 266.8 L2342.1 264.3 L2342.8 261.9 L2343.5 265.5 L2344.2 270.3 L2344.9 277.2 L2345.6 274.3 L2346.2 273.1 L2346.9 270.7 L2347.6 270.3 L2348.3 276.5 L2349 261.9 L2349.7 262.7 L2350.4 262.9 L2351.1 264 L2351.8 267.1 L2352.5 269.6 L2353.2 268.6 L2353.9 271 L2354.6 267.5 L2355.3 273.8 L2356 282.1" fill="none" stroke="#878793" stroke-width="3.8" stroke-linejoin="round"/>
<line x1="203.3" x2="203.3" y1="200.2" y2="1312" stroke="#8070EF" stroke-width="3.3"/>
<line x1="2371.3" x2="2371.3" y1="200.2" y2="1312" stroke="#8E8E99" stroke-width="3"/>
<g font-size="34" fill="#141416"><text transform="translate(102.02 381.4) scale(0.9717 1)">400K</text><text transform="translate(101.51 616.8) scale(0.9897 1)">300K</text><text transform="translate(102.02 852.2) scale(0.9819 1)">200K</text><text transform="translate(105.15 1087.6) scale(0.9395 1)">100K</text><text transform="translate(160.44 1323.0) scale(1.0164 1)">0</text></g>
<g font-size="34" fill="#141416"><text transform="translate(2394.16 296.8) scale(0.9317 1)">100K</text><text transform="translate(2395.01 333.6) scale(0.9863 1)">80K</text><text transform="translate(2395.02 381.1) scale(0.9863 1)">60K</text><text transform="translate(2396.01 448.0) scale(0.9696 1)">40K</text><text transform="translate(2395.01 562.3) scale(0.9863 1)">20K</text><text transform="translate(2394.20 676.7) scale(0.9126 1)">10K</text><text transform="translate(2395.02 713.5) scale(0.9797 1)">8K</text><text transform="translate(2395.02 761.0) scale(0.9797 1)">6K</text><text transform="translate(2396.01 827.9) scale(0.9552 1)">4K</text><text transform="translate(2395.02 942.2) scale(0.9797 1)">2K</text><text transform="translate(2394.33 1056.6) scale(0.8582 1)">1K</text><text transform="translate(2394.93 1093.4) scale(1.0484 1)">800</text><text transform="translate(2394.95 1140.9) scale(1.0300 1)">600</text><text transform="translate(2395.98 1207.8) scale(1.0293 1)">400</text><text transform="translate(2394.95 1322.1) scale(1.0300 1)">200</text></g>
<g font-size="26.5" fill="#6E6E78"><text transform="translate(238.04 1360.0) scale(0.9615 1)">2016</text><text transform="translate(451.05 1360.0) scale(0.9510 1)">2017</text><text transform="translate(662.52 1360.0) scale(0.9823 1)">2018</text><text transform="translate(873.49 1360.0) scale(1.0003 1)">2019</text><text transform="translate(1084.95 1360.0) scale(1.0253 1)">2020</text><text transform="translate(1299.04 1360.0) scale(0.9612 1)">2021</text><text transform="translate(1509.95 1360.0) scale(1.0252 1)">2022</text><text transform="translate(1721.44 1360.0) scale(1.0423 1)">2023</text><text transform="translate(1933.48 1360.0) scale(1.0284 1)">2024</text><text transform="translate(2146.44 1360.0) scale(1.0423 1)">2025</text></g>
<text transform="translate(85.8 755) rotate(-90)" text-anchor="middle" font-size="31" fill="#141416">Balance</text>
<text x="2497.3" y="1403.6" text-anchor="end" font-size="22.5" fill="#74747E" textLength="320.5" lengthAdjust="spacingAndGlyphs">© CryptoQuant. All rights reserved</text>
</svg>
</body></html>
